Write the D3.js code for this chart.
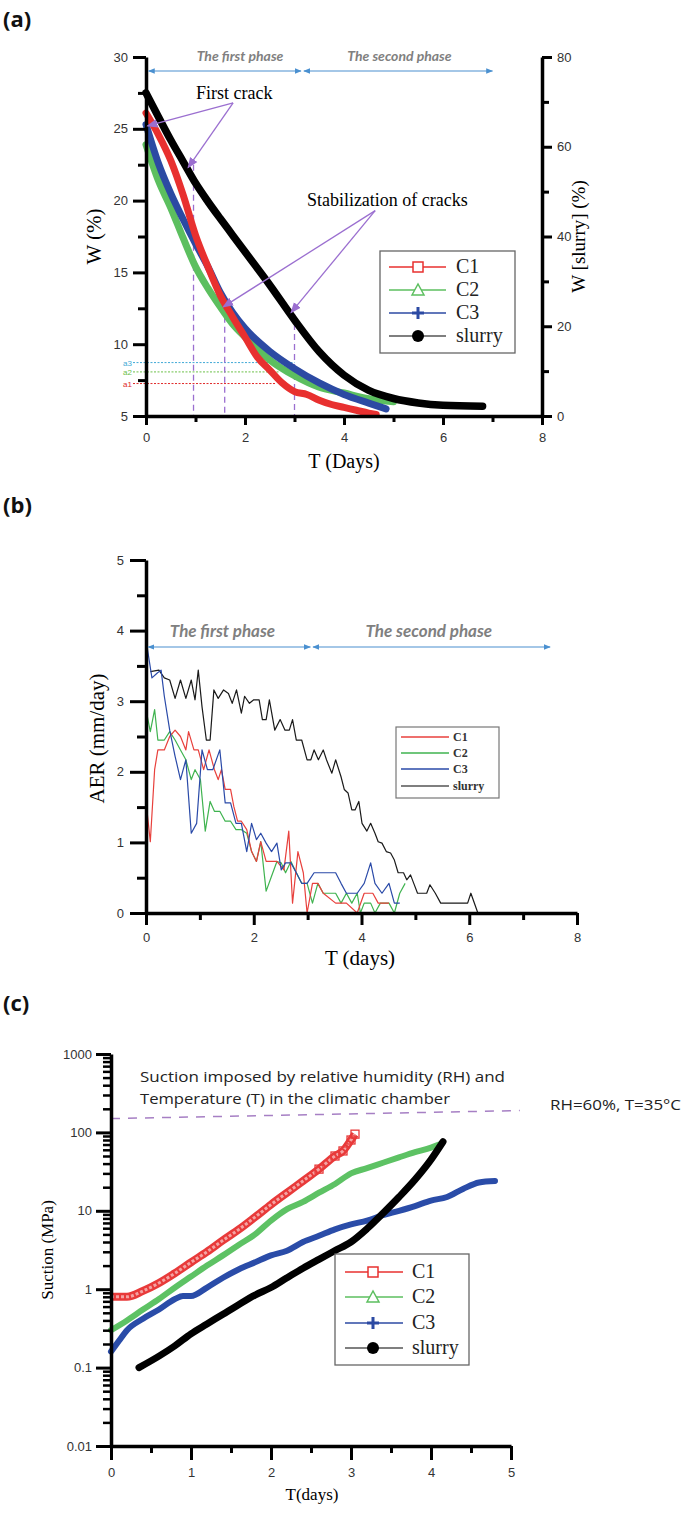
<!DOCTYPE html>
<html><head><meta charset="utf-8">
<script src="https://cdn.jsdelivr.net/npm/d3@7"></script>
<style>body{margin:0;background:#fff}svg{display:block}</style>
</head><body>
<svg id="chart" width="685" height="1514"></svg>
<script>
// ---------------- DATA ----------------
// Panel (a): water content W (%) vs T (days)
const aC1T = [0,0.25,0.5,0.75,1,1.25,1.5,1.75,2,2.25,2.5,2.75,3,3.25,3.5,3.75,4,4.25,4.5,4.65];
const aC1W = [26.1,24.6,22.8,20.4,17.6,15.4,13.4,11.9,10.5,9.1,8.2,7.3,6.7,6.5,6.1,5.8,5.6,5.4,5.2,5.1];
const aC2T = [0,0.25,0.5,0.75,1,1.25,1.5,1.75,2,2.5,3,3.5,4,4.5,5];
const aC2W = [23.9,21.4,19.5,17.4,15.4,13.9,12.6,11.4,10.5,8.9,7.8,7.0,6.6,6.2,6.0];
const aC3T = [0,0.25,0.5,0.75,1,1.25,1.5,1.75,2,2.5,3,3.5,4,4.5,4.85];
const aC3W = [25.3,22.6,20.5,18.7,17.0,15.4,13.6,12.2,11.1,9.5,8.3,7.3,6.5,5.9,5.5];
const aSlT = [0,0.25,0.5,0.75,1,1.25,1.5,1.75,2,2.5,3,3.5,4,4.5,5,5.5,6,6.8];
const aSlW = [72,66.7,61.5,56.7,51.9,47.8,44,40.3,36.6,29.2,21.4,14.3,9.1,5.7,3.9,2.9,2.4,2.2];
const aLeftTicks = [5,10,15,20,25,30];
const aRightTicks = [0,20,40,60,80];
const aXTicks = [0,2,4,6,8];
const aLevels = [{name:"a3", w:8.72, t:3.0, color:"#3fa9d6"},{name:"a2", w:8.07, t:2.7, color:"#6cc04a"},{name:"a1", w:7.26, t:2.62, color:"#e02a2a"}];
const aCrackT = [0.96, 1.59, 3.0];
const aCrackW = [22.5, 12.6, 12.1];

// Panel (b): AER (mm/day) vs T (days)
const bC1T = [0,0.08,0.16,0.22,0.34,0.44,0.54,0.64,0.74,0.79,0.89,0.97,1.07,1.17,1.27,1.34,1.40,1.47,1.57,1.63,1.70,1.77,1.87,1.96,2.05,2.13,2.23,2.43,2.56,2.65,2.72,2.82,2.92,2.99,3.09,3.19,3.29,3.52,3.72,3.92,4.05,4.21,4.31,4.51];
const bC1V = [1.58,1.01,2.03,2.31,2.31,2.50,2.59,2.50,2.31,2.57,2.31,2.31,2.03,2.31,2.03,1.89,2.03,1.75,1.75,1.51,1.30,1.30,1.18,0.87,0.73,1.01,0.73,0.73,0.61,1.16,0.14,0.87,0.57,0,0.42,0.42,0.28,0.14,0.14,0,0.28,0.28,0.14,0.14];
const bC2T = [0,0.08,0.16,0.22,0.34,0.44,0.54,0.64,0.74,0.84,0.91,1.01,1.10,1.19,1.27,1.37,1.47,1.57,1.67,1.77,1.87,1.96,2.05,2.13,2.23,2.33,2.43,2.51,2.59,2.69,2.79,2.89,2.99,3.09,3.19,3.29,3.52,3.62,3.72,3.82,3.92,3.98,4.05,4.17,4.25,4.35,4.51,4.61,4.71,4.81];
const bC2V = [2.88,2.57,2.88,2.45,2.45,2.57,2.45,2.31,2.17,1.89,2.03,1.89,1.16,1.58,1.44,1.44,1.30,1.30,1.18,1.18,1.13,0.87,0.73,1.01,0.31,0.52,0.73,0.71,0.57,0.73,0.57,0.42,0.42,0.14,0.42,0.28,0.28,0.14,0.28,0.14,0.28,0,0.14,0.14,0,0.14,0.14,0,0.28,0.42];
const bC3T = [0,0.11,0.21,0.28,0.34,0.44,0.54,0.64,0.74,0.84,0.94,1.04,1.14,1.24,1.37,1.47,1.57,1.67,1.77,1.87,1.96,2.05,2.13,2.23,2.33,2.43,2.51,2.59,2.69,2.79,2.89,2.99,3.12,3.52,3.62,3.72,3.92,4.05,4.17,4.25,4.38,4.51,4.61,4.71];
const bC3V = [3.87,3.33,3.40,3.44,3.07,2.59,2.22,1.89,2.17,1.13,1.27,2.31,2.03,2.03,2.31,1.56,1.56,1.27,1.27,0.87,1.27,1.04,1.13,0.99,0.87,0.99,0.61,0.71,0.71,0.57,0.42,0.42,0.57,0.57,0.42,0.28,0.28,0.42,0.71,0.42,0.28,0.42,0.14,0.14];
const bSlT = [0.08,0.24,0.34,0.44,0.54,0.64,0.74,0.84,0.91,0.97,1.04,1.12,1.19,1.26,1.34,1.44,1.53,1.60,1.68,1.77,1.83,1.92,2.00,2.10,2.16,2.23,2.29,2.39,2.49,2.58,2.66,2.72,2.79,2.89,2.99,3.06,3.12,3.20,3.29,3.35,3.45,3.52,3.62,3.68,3.75,3.82,3.88,3.95,4.01,4.10,4.17,4.25,4.31,4.38,4.46,4.54,4.61,4.68,4.78,4.84,4.91,4.97,5.04,5.14,5.21,5.27,5.37,5.47,5.57,5.97,6.03,6.16];
const bSlV = [3.42,3.44,3.33,3.30,3.04,3.30,3.04,3.30,3.02,3.44,2.92,2.45,2.45,3.16,3.04,3.16,3.11,2.97,3.16,2.83,3.07,2.97,3.02,3.02,2.74,2.74,3.02,2.59,2.74,2.59,2.59,2.74,2.45,2.45,2.17,2.17,2.31,2.17,2.31,2.17,1.98,2.17,1.93,1.75,1.70,1.46,1.46,1.58,1.27,1.16,1.27,1.13,1.01,0.99,0.87,0.85,0.75,0.57,0.57,0.47,0.54,0.42,0.28,0.28,0.28,0.40,0.28,0.14,0.14,0.14,0.28,0];
const bYTicks = [0,1,2,3,4,5];
const bXTicks = [0,2,4,6,8];

// Panel (c): suction (MPa) vs T (days)
const cC1T = [0,0.2,0.4,0.6,0.8,1.0,1.2,1.4,1.6,1.8,2.0,2.2,2.4,2.6,2.8,2.9,3.0,3.05];
const cC1S = [0.8,0.8,0.95,1.2,1.6,2.2,3.0,4.2,5.8,8.3,12,17,24,34,50,58,80,95];
const cC2T = [0,0.2,0.4,0.6,0.8,1.0,1.2,1.4,1.6,1.8,2.0,2.2,2.4,2.6,2.8,3.0,3.2,3.4,3.6,3.8,4.0,4.1];
const cC2S = [0.3,0.4,0.55,0.75,1.05,1.45,2.0,2.7,3.7,5.0,7.5,10.5,13,17,22,30,35,41,48,56,64,70];
const cC3T = [0,0.1,0.2,0.4,0.6,0.8,0.9,1.0,1.2,1.4,1.6,1.8,2.0,2.2,2.4,2.6,2.8,3.0,3.2,3.4,3.6,3.8,4.0,4.2,4.4,4.6,4.8];
const cC3S = [0.16,0.22,0.3,0.42,0.55,0.75,0.82,0.82,1.05,1.4,1.8,2.2,2.7,3.1,4.0,4.8,5.8,6.7,7.5,8.8,10,11.5,13.5,15,19,23,24];
const cSlT = [0.35,0.6,0.8,1.0,1.2,1.4,1.6,1.8,2.0,2.2,2.4,2.6,2.8,3.0,3.2,3.4,3.6,3.8,4.0,4.15];
const cSlS = [0.1,0.14,0.19,0.27,0.36,0.48,0.64,0.84,1.05,1.4,1.85,2.4,3.1,4.0,5.9,9.3,15,25,45,76];
const cYTicks = [0.01,0.1,1,10,100,1000];
const cXTicks = [0,1,2,3,4,5];
const cChamberT = [0, 5.11];
const cChamberS = [150, 190];

const seriesNames = ["C1","C2","C3","slurry"];
const colorsA = ["#e8302f","#5cbf5f","#2c4aa3","#000000"];
const colorsB = ["#e8403c","#3fb34f","#2a4aa8","#1a1a1a"];

// ---------------- DRAWING ----------------
const svg = d3.select("#chart");
const SANS = "'Liberation Sans', Arial, sans-serif";
const SERIF = "'Liberation Serif', 'Times New Roman', serif";
const PHASEFONT = "Lato, 'Open Sans', sans-serif";
const intFmt = d3.format("d");
const zip = (t, v) => t.map((d, i) => [d, v[i]]);

const defs = svg.append("defs");
function mk(id, color, w) {
  defs.append("marker").attr("id", id).attr("viewBox", "0 0 10 10").attr("refX", 9).attr("refY", 5)
    .attr("markerWidth", w).attr("markerHeight", w).attr("markerUnits", "userSpaceOnUse")
    .attr("orient", "auto-start-reverse")
    .append("path").attr("d", "M0,1 L10,5 L0,9 z").attr("fill", color);
}
mk("arrBlue", "#4a90d0", 7);
mk("arrPurple", "#9b6fd0", 11);

function styleAxis(g, domainW, tickW) {
  g.select(".domain").attr("stroke", "#000").attr("stroke-width", domainW);
  g.selectAll(".tick line").attr("stroke", "#000").attr("stroke-width", tickW);
  g.selectAll(".tick text").attr("font-family", SANS).attr("font-size", 13).attr("fill", "#333");
}
function panelTitle(txt, y) {
  svg.append("text").attr("x", 3).attr("y", y).text(txt)
    .attr("font-family", "'Open Sans', sans-serif").attr("font-weight", "bold").attr("font-size", 22).attr("fill", "#111");
}
function phase(xs, y, spans, labels, fs) {
  spans.forEach((s, i) => {
    svg.append("line").attr("x1", xs(s[0])).attr("x2", xs(s[1])).attr("y1", y).attr("y2", y)
      .attr("stroke", "#4a90d0").attr("stroke-width", 1.2)
      .attr("marker-start", "url(#arrBlue)").attr("marker-end", "url(#arrBlue)");
    svg.append("text").attr("x", xs(labels[i].t)).attr("y", y - 10).attr("text-anchor", "middle")
      .attr("font-family", PHASEFONT).attr("font-style", "italic").attr("font-weight", "bold")
      .attr("font-size", fs).attr("fill", "#808080").text(labels[i].s);
  });
}

// ====== Panel (a) ======
panelTitle("(a)", 27);
const xA = d3.scaleLinear([0, 8], [146, 542]);
const yA = d3.scaleLinear([5, 30], [416, 57]);
const yA2 = d3.scaleLinear([0, 80], [416, 57]);

aLevels.forEach(l => {
  svg.append("line").attr("x1", xA(0) - 13).attr("x2", xA(l.t)).attr("y1", yA(l.w)).attr("y2", yA(l.w))
    .attr("stroke", l.color).attr("stroke-width", 1).attr("stroke-dasharray", "2,1.5");
  svg.append("text").attr("x", xA(0) - 14).attr("y", yA(l.w) + 3).attr("text-anchor", "end")
    .attr("font-family", SANS).attr("font-size", 8).attr("fill", l.color).text(l.name);
});
aCrackT.forEach((t, i) => {
  svg.append("line").attr("x1", xA(t)).attr("x2", xA(t)).attr("y1", yA(aCrackW[i])).attr("y2", yA(5))
    .attr("stroke", "#9b6fd0").attr("stroke-width", 1.3).attr("stroke-dasharray", "6,4");
});

const lineA = d3.line().curve(d3.curveMonotoneX);
const aSeries = [zip(aC1T, aC1W), zip(aC2T, aC2W), zip(aC3T, aC3W)];
[1, 2, 0].forEach(i => {
  svg.append("path").attr("d", lineA(aSeries[i].map(d => [xA(d[0]), yA(d[1])])))
    .attr("fill", "none").attr("stroke", colorsA[i]).attr("stroke-width", 7).attr("stroke-linecap", "round");
});
svg.append("path").attr("d", lineA(zip(aSlT, aSlW).map(d => [xA(d[0]), yA2(d[1])])))
  .attr("fill", "none").attr("stroke", "#000").attr("stroke-width", 7.5).attr("stroke-linecap", "round");

{
  const gL = svg.append("g").attr("transform", `translate(${xA(0)},0)`)
    .call(d3.axisLeft(yA).tickValues(aLeftTicks).tickFormat(intFmt).tickSize(13).tickSizeOuter(0).tickPadding(5));
  styleAxis(gL, 3.5, 3);
  const gLm = svg.append("g").attr("transform", `translate(${xA(0)},0)`)
    .call(d3.axisLeft(yA).tickValues(aLeftTicks.slice(0, -1).map(v => v + 2.5)).tickSize(8).tickFormat(""));
  styleAxis(gLm, 0, 3);
  const gR = svg.append("g").attr("transform", `translate(${xA(8)},0)`)
    .call(d3.axisRight(yA2).tickValues(aRightTicks).tickFormat(intFmt).tickSize(10).tickSizeOuter(0).tickPadding(5));
  styleAxis(gR, 3.5, 3);
  const gRm = svg.append("g").attr("transform", `translate(${xA(8)},0)`)
    .call(d3.axisRight(yA2).tickValues([10, 30, 50, 70]).tickSize(7).tickFormat(""));
  styleAxis(gRm, 0, 3);
  const gB = svg.append("g").attr("transform", `translate(0,${yA(5)})`)
    .call(d3.axisBottom(xA).tickValues(aXTicks).tickFormat(intFmt).tickSize(9).tickSizeOuter(0).tickPadding(8));
  styleAxis(gB, 3.5, 3);
  const gBm = svg.append("g").attr("transform", `translate(0,${yA(5)})`)
    .call(d3.axisBottom(xA).tickValues([1, 3, 5, 7]).tickSize(6).tickFormat(""));
  styleAxis(gBm, 0, 3);
}
svg.append("text").attr("transform", `translate(101,${(yA(5) + yA(30)) / 2}) rotate(-90)`).attr("text-anchor", "middle")
  .attr("font-family", SERIF).attr("font-size", 21).text("W (%)");
svg.append("text").attr("transform", `translate(585,${(yA(5) + yA(30)) / 2}) rotate(-90)`).attr("text-anchor", "middle")
  .attr("font-family", SERIF).attr("font-size", 19).text("W [slurry] (%)");
svg.append("text").attr("x", (xA(0) + xA(8)) / 2).attr("y", 468).attr("text-anchor", "middle")
  .attr("font-family", SERIF).attr("font-size", 20).text("T (Days)");

phase(xA, 71, [[0.05, 3.13], [3.19, 7.0]], [{t: 1.9, s: "The first phase"}, {t: 5.12, s: "The second phase"}], 14);

function arrowLine(x1, y1, x2, y2) {
  svg.append("line").attr("x1", x1).attr("y1", y1).attr("x2", x2).attr("y2", y2)
    .attr("stroke", "#9b6fd0").attr("stroke-width", 1.3).attr("marker-end", "url(#arrPurple)");
}
svg.append("text").attr("x", xA(1.01)).attr("y", yA(27.1)).attr("font-family", SERIF).attr("font-size", 18).text("First crack");
arrowLine(xA(1.76), yA(26.8), xA(0.03), yA(25.2));
arrowLine(xA(1.76), yA(26.8), xA(0.85), yA(22.3));
svg.append("text").attr("x", xA(3.25)).attr("y", yA(19.6)).attr("font-family", SERIF).attr("font-size", 18).text("Stabilization of cracks");
arrowLine(xA(4.63), yA(19.3), xA(1.56), yA(12.6));
arrowLine(xA(4.63), yA(19.3), xA(2.93), yA(12.2));

function legendMarker(g, i, x, y, color, s) {
  if (i === 0) g.append("rect").attr("x", x - 5 * s).attr("y", y - 5 * s).attr("width", 10 * s).attr("height", 10 * s).attr("fill", "#fff").attr("stroke", color).attr("stroke-width", 1.5);
  if (i === 1) g.append("path").attr("d", `M${x - 6 * s},${y + 5 * s} L${x},${y - 6 * s} L${x + 6 * s},${y + 5 * s} Z`).attr("fill", "#fff").attr("stroke", color).attr("stroke-width", 1.5);
  if (i === 2) g.append("path").attr("d", `M${x - 6 * s},${y} H${x + 6 * s} M${x},${y - 6 * s} V${y + 6 * s}`).attr("stroke", color).attr("stroke-width", 3);
  if (i === 3) g.append("circle").attr("cx", x).attr("cy", y).attr("r", 6 * s).attr("fill", "#000");
}
function bigLegend(x0, y0, w, h, rows, lx1, lx2, mx, tx, fs) {
  const g = svg.append("g");
  g.append("rect").attr("x", x0).attr("y", y0).attr("width", w).attr("height", h).attr("fill", "#fff").attr("stroke", "#666").attr("stroke-width", 1.3);
  seriesNames.forEach((n, i) => {
    const y = rows[i];
    const c = i === 3 ? "#555" : colorsA[i];
    g.append("line").attr("x1", lx1).attr("x2", lx2).attr("y1", y).attr("y2", y).attr("stroke", c).attr("stroke-width", 1.5);
    legendMarker(g, i, mx, y, i === 3 ? "#000" : colorsA[i], 1);
    g.append("text").attr("x", tx).attr("y", y + 6).attr("font-family", SERIF).attr("font-size", fs).attr("fill", "#222").text(n);
  });
}
bigLegend(380, 251, 135, 102, [267, 290, 313, 336], 389, 446, 418, 456, 20);

// ====== Panel (b) ======
panelTitle("(b)", 513);
const xB = d3.scaleLinear([0, 8], [146, 577]);
const yB = d3.scaleLinear([0, 5], [913, 560]);
const lineB = d3.line();
const bSeries = [zip(bC1T, bC1V), zip(bC2T, bC2V), zip(bC3T, bC3V), zip(bSlT, bSlV)];
[3, 1, 0, 2].forEach(i => {
  svg.append("path").attr("d", lineB(bSeries[i].map(d => [xB(d[0]), yB(d[1])])))
    .attr("fill", "none").attr("stroke", colorsB[i]).attr("stroke-width", 1.2).attr("stroke-linejoin", "round");
});
{
  const gL = svg.append("g").attr("transform", `translate(${xB(0)},0)`)
    .call(d3.axisLeft(yB).tickValues(bYTicks).tickFormat(intFmt).tickSize(16).tickSizeOuter(0).tickPadding(6));
  styleAxis(gL, 3.5, 3);
  const gLm = svg.append("g").attr("transform", `translate(${xB(0)},0)`)
    .call(d3.axisLeft(yB).tickValues([0.5, 1.5, 2.5, 3.5, 4.5]).tickSize(9).tickFormat(""));
  styleAxis(gLm, 0, 3);
  const gB = svg.append("g").attr("transform", `translate(0,${yB(0)})`)
    .call(d3.axisBottom(xB).tickValues(bXTicks).tickFormat(intFmt).tickSize(12).tickSizeOuter(0).tickPadding(8));
  styleAxis(gB, 3.5, 3);
  const gBm = svg.append("g").attr("transform", `translate(0,${yB(0)})`)
    .call(d3.axisBottom(xB).tickValues([1, 3, 5, 7]).tickSize(7).tickFormat(""));
  styleAxis(gBm, 0, 3);
}
svg.append("text").attr("transform", `translate(104,${(yB(0) + yB(5)) / 2 + 2}) rotate(-90)`).attr("text-anchor", "middle")
  .attr("font-family", SERIF).attr("font-size", 21).text("AER (mm/day)");
svg.append("text").attr("x", 360).attr("y", 965).attr("text-anchor", "middle")
  .attr("font-family", SERIF).attr("font-size", 21).text("T (days)");
phase(xB, 647, [[0.04, 3.05], [3.1, 7.5]], [{t: 1.42, s: "The first phase"}, {t: 5.25, s: "The second phase"}], 17);
{
  const g = svg.append("g");
  g.append("rect").attr("x", 396).attr("y", 727).attr("width", 103).attr("height", 71).attr("fill", "#fff").attr("stroke", "#777").attr("stroke-width", 1.2);
  [737, 753, 769, 786].forEach((y, i) => {
    g.append("line").attr("x1", 401).attr("x2", 449).attr("y1", y).attr("y2", y).attr("stroke", i === 3 ? "#555" : colorsB[i]).attr("stroke-width", 1.3);
    g.append("text").attr("x", 453).attr("y", y + 4).attr("font-family", SERIF).attr("font-size", 12).attr("font-weight", "bold").attr("fill", "#333").text(seriesNames[i]);
  });
}

// ====== Panel (c) ======
panelTitle("(c)", 1011);
const xC = d3.scaleLinear([0, 5], [111, 511]);
const yC = d3.scaleLog([0.01, 1000], [1446, 1054]);
const lineC = d3.line().curve(d3.curveMonotoneX);
const cSeries = [zip(cC1T, cC1S), zip(cC2T, cC2S), zip(cC3T, cC3S), zip(cSlT, cSlS)];
const cPath = s => lineC(s.map(d => [xC(d[0]), yC(d[1])]));
svg.append("path").attr("d", cPath(cSeries[2])).attr("fill", "none").attr("stroke", "#2a4ca8").attr("stroke-width", 6).attr("stroke-linecap", "round");
svg.append("path").attr("d", cPath(cSeries[1])).attr("fill", "none").attr("stroke", "#5dc264").attr("stroke-width", 6).attr("stroke-linecap", "round");
svg.append("path").attr("d", cPath(cSeries[3])).attr("fill", "none").attr("stroke", "#000").attr("stroke-width", 7).attr("stroke-linecap", "round");
svg.append("path").attr("d", cPath(cSeries[0])).attr("fill", "none").attr("stroke", "#e83a3a").attr("stroke-width", 8).attr("stroke-linecap", "butt");
svg.append("path").attr("d", cPath(cSeries[0])).attr("fill", "none").attr("stroke", "#f4a3a3").attr("stroke-width", 3).attr("stroke-dasharray", "3,2");
cSeries[0].slice(-5).forEach(d => {
  svg.append("rect").attr("x", xC(d[0]) - 4).attr("y", yC(d[1]) - 4).attr("width", 8).attr("height", 8).attr("fill", "none").attr("stroke", "#e83a3a").attr("stroke-width", 1.3);
});
svg.append("line").attr("x1", xC(cChamberT[0])).attr("x2", xC(cChamberT[1])).attr("y1", yC(cChamberS[0])).attr("y2", yC(cChamberS[1]))
  .attr("stroke", "#a67fc4").attr("stroke-width", 1.5).attr("stroke-dasharray", "9,8");
svg.append("text").attr("x", 140).attr("y", 1082).attr("font-family", "'Open Sans', sans-serif").attr("font-size", 14).attr("fill", "#222")
  .attr("textLength", 365).attr("lengthAdjust", "spacingAndGlyphs").text("Suction imposed by relative humidity (RH) and");
svg.append("text").attr("x", 140).attr("y", 1104).attr("font-family", "'Open Sans', sans-serif").attr("font-size", 14).attr("fill", "#222")
  .attr("textLength", 310).attr("lengthAdjust", "spacingAndGlyphs").text("Temperature (T) in the climatic chamber");
svg.append("text").attr("x", 550).attr("y", 1110).attr("font-family", "'Open Sans', sans-serif").attr("font-size", 14).attr("fill", "#222")
  .attr("textLength", 131).attr("lengthAdjust", "spacingAndGlyphs").text("RH=60%, T=35°C");
{
  const gL = svg.append("g").attr("transform", `translate(${xC(0)},0)`)
    .call(d3.axisLeft(yC).tickValues(cYTicks).tickFormat(d => String(d)).tickSize(15).tickSizeOuter(0).tickPadding(4));
  styleAxis(gL, 3.5, 3);
  const minors = [];
  cYTicks.slice(0, -1).forEach(v => { for (let k = 2; k <= 9; k++) minors.push(v * k); });
  const gLm = svg.append("g").attr("transform", `translate(${xC(0)},0)`)
    .call(d3.axisLeft(yC).tickValues(minors).tickSize(8).tickFormat(""));
  styleAxis(gLm, 0, 2.5);
  const gB = svg.append("g").attr("transform", `translate(0,${yC(0.01)})`)
    .call(d3.axisBottom(xC).tickValues(cXTicks).tickFormat(intFmt).tickSize(14).tickSizeOuter(0).tickPadding(8));
  styleAxis(gB, 3.5, 3);
  const gBm = svg.append("g").attr("transform", `translate(0,${yC(0.01)})`)
    .call(d3.axisBottom(xC).tickValues([0.5, 1.5, 2.5, 3.5, 4.5]).tickSize(7).tickFormat(""));
  styleAxis(gBm, 0, 3);
}
svg.append("text").attr("transform", `translate(53,1250) rotate(-90)`).attr("text-anchor", "middle")
  .attr("font-family", SERIF).attr("font-size", 17).text("Suction (MPa)");
svg.append("text").attr("x", 312).attr("y", 1500).attr("text-anchor", "middle")
  .attr("font-family", SERIF).attr("font-size", 17).text("T(days)");
bigLegend(335, 1254, 134, 111, [1272, 1297, 1323, 1348], 345, 403, 373, 412, 20);
</script>
</body></html>
